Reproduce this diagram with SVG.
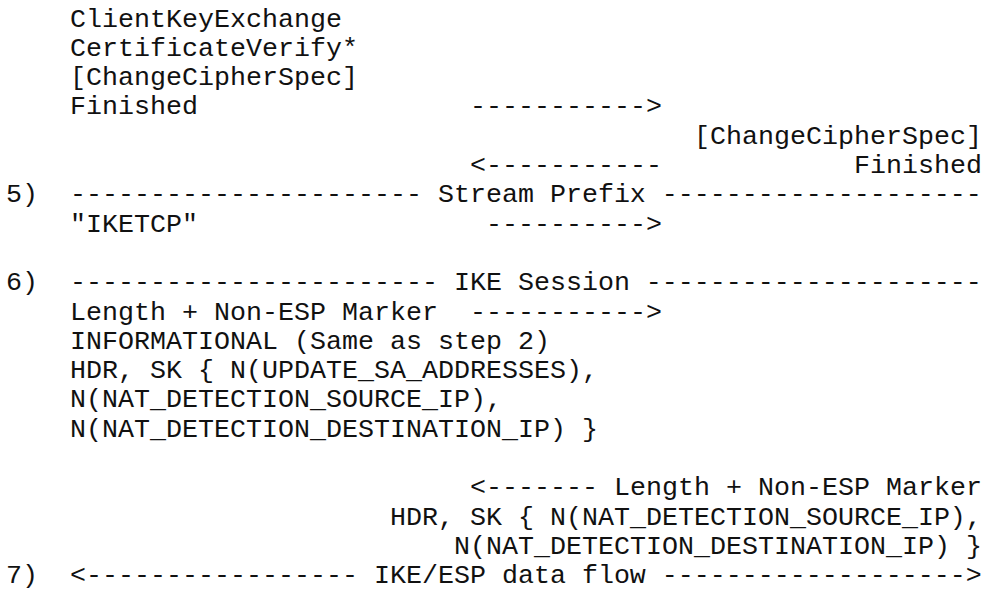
<svg xmlns="http://www.w3.org/2000/svg" width="986" height="590" viewBox="0 0 986 590">
<style>
text{font-family:"Liberation Mono","Courier New",monospace;font-size:26.67px;fill:#111;white-space:pre}
</style>
<rect width="986" height="590" fill="#fff"/>
<g id="initiator-tls">
<text x="70" y="26.5">ClientKeyExchange</text>
<text x="70" y="55.8">CertificateVerify*</text>
<text x="70" y="85.1">[ChangeCipherSpec]</text>
<text x="70" y="114.4">Finished</text>
</g>
<g id="responder-tls">
<text x="694" y="143.7">[ChangeCipherSpec]</text>
<text x="854" y="173">Finished</text>
</g>
<g id="step5">
<text x="6" y="202.3">5)</text>
<text x="70" y="202.3">---------------------- Stream Prefix --------------------</text>
<text x="70" y="231.6">"IKETCP"</text>
</g>
<g id="step6">
<text x="6" y="290.2">6)</text>
<text x="70" y="290.2">----------------------- IKE Session ---------------------</text>
<text x="70" y="319.5">Length + Non-ESP Marker</text>
<text x="70" y="348.8">INFORMATIONAL (Same as step 2)</text>
<text x="70" y="378.1">HDR, SK { N(UPDATE_SA_ADDRESSES),</text>
<text x="70" y="407.4">N(NAT_DETECTION_SOURCE_IP),</text>
<text x="70" y="436.7">N(NAT_DETECTION_DESTINATION_IP) }</text>
</g>
<g id="step6-response">
<text x="614" y="495.3">Length + Non-ESP Marker</text>
<text x="390" y="524.6">HDR, SK { N(NAT_DETECTION_SOURCE_IP),</text>
<text x="454" y="553.9">N(NAT_DETECTION_DESTINATION_IP) }</text>
</g>
<g id="step7">
<text x="6" y="583.2">7)</text>
<text x="70" y="583.2">&lt;----------------- IKE/ESP data flow -------------------&gt;</text>
</g>
<g id="connectors">
<text x="470" y="114.4">-----------&gt;</text>
<text x="470" y="173">&lt;-----------</text>
<text x="486" y="231.6">----------&gt;</text>
<text x="470" y="319.5">-----------&gt;</text>
<text x="470" y="495.3">&lt;-------</text>
</g>
</svg>
